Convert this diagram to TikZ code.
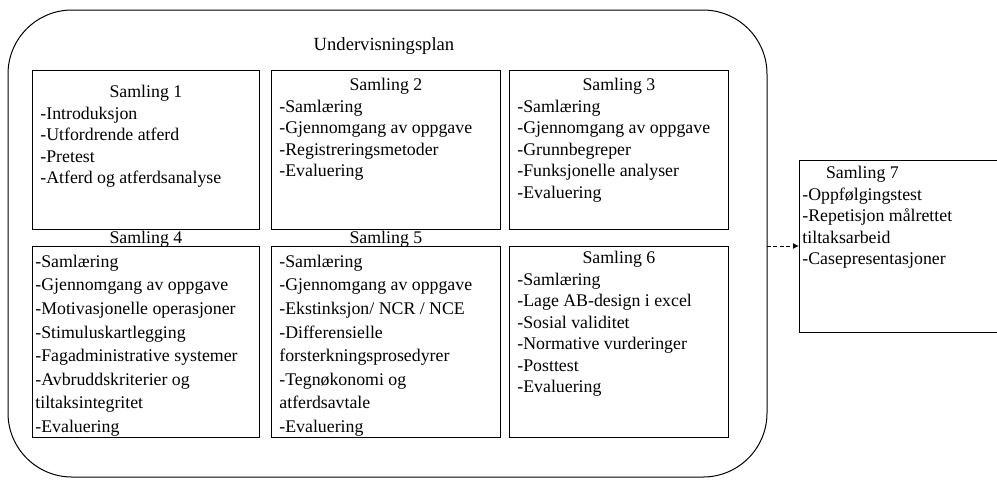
\documentclass[tikz,border=0pt]{standalone}
\usepackage{fontspec}
\setmainfont{Liberation Serif}
\usetikzlibrary{shapes,arrows.meta}
\tikzstyle{box} = [draw, rectangle, line width=0.5pt, inner sep=0pt,
    outer sep=0pt, anchor=north west]
\tikzstyle{txt} = [align=left, inner sep=0pt, anchor=north west,
    font=\fontsize{8.9}{10.75}\selectfont]
\tikzstyle{txtwide} = [txt, font=\fontsize{8.9}{11.8}\selectfont]

\begin{document}
\begin{tikzpicture}[x=0.5pt,y=-0.5pt]
\useasboundingbox (0,0) rectangle (997,479);

\node[box, rounded corners=32pt, minimum width=379.5pt, minimum height=233.5pt, name=plan] at (8,10) {};
\node[txt, anchor=base, font=\fontsize{9.3}{11}\selectfont, name=title] at (384,50) {Undervisningsplan};

% first row
\node[box, minimum width=113.5pt, minimum height=79.5pt, name=s1] at (32,70) {};
\node[box, minimum width=114.5pt, minimum height=79.5pt, name=s2] at (271,70) {};
\node[box, minimum width=109.5pt, minimum height=79.5pt, name=s3] at (509,70) {};

% second row
\node[box, minimum width=113.5pt, minimum height=95.5pt, name=s4] at (32,246) {};
\node[box, minimum width=114.5pt, minimum height=95.5pt, name=s5] at (271,246) {};
\node[box, minimum width=109.5pt, minimum height=95.5pt, name=s6] at (509,246) {};

\node[box, minimum width=99pt, minimum height=86pt, name=s7] at (799,160) {};

\node[txt, name=t1] at (40,85) {\makebox[105.5pt]{Samling 1}\\
-Introduksjon\\-Utfordrende atferd\\-Pretest\\-Atferd og atferdsanalyse};
\node[txt, name=t2] at (279,78) {\makebox[106.5pt]{Samling 2}\\
-Samlæring\\-Gjennomgang av oppgave\\-Registreringsmetoder\\-Evaluering};
\node[txt, name=t3] at (517,78) {\makebox[101.5pt]{Samling 3}\\
-Samlæring\\-Gjennomgang av oppgave\\-Grunnbegreper\\-Funksjonelle analyser\\-Evaluering};

\node[txtwide, name=t4] at (35,231) {\makebox[110.5pt]{Samling 4}\\
-Samlæring\\-Gjennomgang av oppgave\\-Motivasjonelle operasjoner\\-Stimuluskartlegging\\
-Fagadministrative systemer\\-Avbruddskriterier og\\tiltaksintegritet\\-Evaluering};
\node[txtwide, name=t5] at (279,231) {\makebox[106.5pt]{Samling 5}\\
-Samlæring\\-Gjennomgang av oppgave\\-Ekstinksjon/ NCR / NCE\\-Differensielle\\
forsterkningsprosedyrer\\-Tegnøkonomi og\\atferdsavtale\\-Evaluering};
\node[txt, name=t6] at (517,251) {\makebox[101.5pt]{Samling 6}\\
-Samlæring\\-Lage AB-design i excel\\-Sosial validitet\\-Normative vurderinger\\
-Posttest\\-Evaluering};

\node[txt, name=t7] at (802,166) {\makebox[60pt]{Samling 7}\\
-Oppfølgingstest\\-Repetisjon målrettet\\tiltaksarbeid\\-Casepresentasjoner};

\draw[line width=0.5pt, dash pattern=on 2pt off 1.2pt, -{Latex[length=3pt,width=3pt]}]
    (plan.east |- s7.west) -- (s7.west);

\end{tikzpicture}
\end{document}
